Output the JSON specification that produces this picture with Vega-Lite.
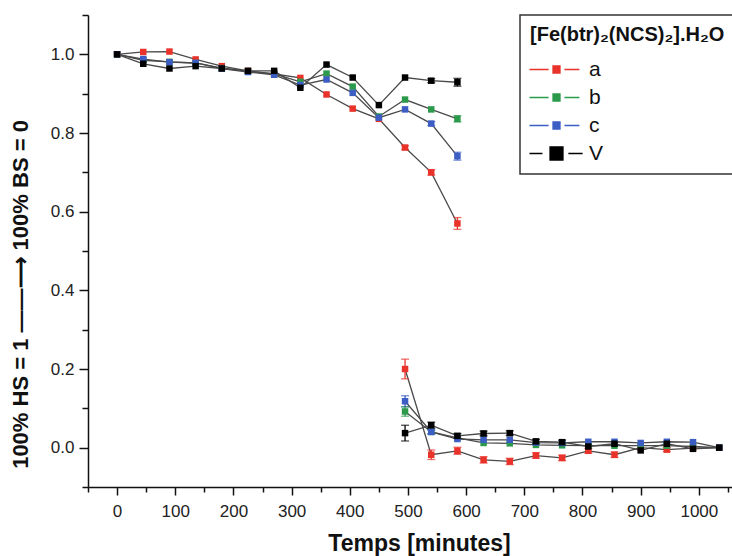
{
  "$schema": "https://vega.github.io/schema/vega-lite/v6.json",
  "width": 644,
  "height": 472,
  "autosize": {"type": "none"},
  "padding": {"left": 88, "top": 15, "right": 0, "bottom": 69},
  "background": "white",
  "config": {"view": {"stroke": null}, "font": "Liberation Sans"},
  "data": {"values": [
    {"s":"a","g":"u","x":0,"y":1.0,"e":0.003},
    {"s":"a","g":"u","x":45,"y":1.006,"e":0.003},
    {"s":"a","g":"u","x":90,"y":1.007,"e":0.003},
    {"s":"a","g":"u","x":135,"y":0.987,"e":0.003},
    {"s":"a","g":"u","x":180,"y":0.970,"e":0.003},
    {"s":"a","g":"u","x":225,"y":0.958,"e":0.003},
    {"s":"a","g":"u","x":270,"y":0.950,"e":0.003},
    {"s":"a","g":"u","x":315,"y":0.940,"e":0.003},
    {"s":"a","g":"u","x":360,"y":0.898,"e":0.003},
    {"s":"a","g":"u","x":405,"y":0.862,"e":0.003},
    {"s":"a","g":"u","x":450,"y":0.836,"e":0.004},
    {"s":"a","g":"u","x":495,"y":0.763,"e":0.005},
    {"s":"a","g":"u","x":540,"y":0.700,"e":0.007},
    {"s":"a","g":"u","x":585,"y":0.570,"e":0.015},
    {"s":"a","g":"l","x":495,"y":0.200,"e":0.025},
    {"s":"a","g":"l","x":540,"y":-0.018,"e":0.012},
    {"s":"a","g":"l","x":585,"y":-0.008,"e":0.009},
    {"s":"a","g":"l","x":630,"y":-0.031,"e":0.008},
    {"s":"a","g":"l","x":675,"y":-0.035,"e":0.008},
    {"s":"a","g":"l","x":720,"y":-0.020,"e":0.007},
    {"s":"a","g":"l","x":765,"y":-0.026,"e":0.007},
    {"s":"a","g":"l","x":810,"y":-0.008,"e":0.006},
    {"s":"a","g":"l","x":855,"y":-0.018,"e":0.007},
    {"s":"a","g":"l","x":900,"y":0.000,"e":0.004},
    {"s":"a","g":"l","x":945,"y":-0.005,"e":0.005},
    {"s":"a","g":"l","x":990,"y":-0.001,"e":0.003},
    {"s":"a","g":"l","x":1035,"y":0.0,"e":0.0},
    {"s":"b","g":"u","x":0,"y":1.0,"e":0.003},
    {"s":"b","g":"u","x":45,"y":0.985,"e":0.003},
    {"s":"b","g":"u","x":90,"y":0.981,"e":0.003},
    {"s":"b","g":"u","x":135,"y":0.978,"e":0.003},
    {"s":"b","g":"u","x":180,"y":0.965,"e":0.003},
    {"s":"b","g":"u","x":225,"y":0.957,"e":0.003},
    {"s":"b","g":"u","x":270,"y":0.950,"e":0.003},
    {"s":"b","g":"u","x":315,"y":0.930,"e":0.003},
    {"s":"b","g":"u","x":360,"y":0.951,"e":0.003},
    {"s":"b","g":"u","x":405,"y":0.918,"e":0.003},
    {"s":"b","g":"u","x":450,"y":0.842,"e":0.003},
    {"s":"b","g":"u","x":495,"y":0.885,"e":0.004},
    {"s":"b","g":"u","x":540,"y":0.860,"e":0.004},
    {"s":"b","g":"u","x":585,"y":0.836,"e":0.008},
    {"s":"b","g":"l","x":495,"y":0.092,"e":0.012},
    {"s":"b","g":"l","x":540,"y":0.040,"e":0.005},
    {"s":"b","g":"l","x":585,"y":0.025,"e":0.004},
    {"s":"b","g":"l","x":630,"y":0.012,"e":0.004},
    {"s":"b","g":"l","x":675,"y":0.011,"e":0.004},
    {"s":"b","g":"l","x":720,"y":0.007,"e":0.003},
    {"s":"b","g":"l","x":765,"y":0.006,"e":0.003},
    {"s":"b","g":"l","x":810,"y":0.005,"e":0.003},
    {"s":"b","g":"l","x":855,"y":0.005,"e":0.003},
    {"s":"b","g":"l","x":900,"y":0.005,"e":0.003},
    {"s":"b","g":"l","x":945,"y":0.005,"e":0.003},
    {"s":"b","g":"l","x":990,"y":0.003,"e":0.003},
    {"s":"b","g":"l","x":1035,"y":0.0,"e":0.0},
    {"s":"c","g":"u","x":0,"y":1.0,"e":0.003},
    {"s":"c","g":"u","x":45,"y":0.988,"e":0.003},
    {"s":"c","g":"u","x":90,"y":0.980,"e":0.003},
    {"s":"c","g":"u","x":135,"y":0.978,"e":0.003},
    {"s":"c","g":"u","x":180,"y":0.964,"e":0.003},
    {"s":"c","g":"u","x":225,"y":0.955,"e":0.003},
    {"s":"c","g":"u","x":270,"y":0.948,"e":0.003},
    {"s":"c","g":"u","x":315,"y":0.922,"e":0.003},
    {"s":"c","g":"u","x":360,"y":0.936,"e":0.003},
    {"s":"c","g":"u","x":405,"y":0.902,"e":0.003},
    {"s":"c","g":"u","x":450,"y":0.839,"e":0.003},
    {"s":"c","g":"u","x":495,"y":0.860,"e":0.004},
    {"s":"c","g":"u","x":540,"y":0.824,"e":0.005},
    {"s":"c","g":"u","x":585,"y":0.741,"e":0.010},
    {"s":"c","g":"l","x":495,"y":0.118,"e":0.014},
    {"s":"c","g":"l","x":540,"y":0.040,"e":0.005},
    {"s":"c","g":"l","x":585,"y":0.022,"e":0.004},
    {"s":"c","g":"l","x":630,"y":0.020,"e":0.004},
    {"s":"c","g":"l","x":675,"y":0.020,"e":0.004},
    {"s":"c","g":"l","x":720,"y":0.013,"e":0.003},
    {"s":"c","g":"l","x":765,"y":0.012,"e":0.003},
    {"s":"c","g":"l","x":810,"y":0.015,"e":0.003},
    {"s":"c","g":"l","x":855,"y":0.015,"e":0.003},
    {"s":"c","g":"l","x":900,"y":0.012,"e":0.003},
    {"s":"c","g":"l","x":945,"y":0.015,"e":0.003},
    {"s":"c","g":"l","x":990,"y":0.014,"e":0.003},
    {"s":"c","g":"l","x":1035,"y":0.0,"e":0.0},
    {"s":"V","g":"u","x":0,"y":1.0,"e":0.003},
    {"s":"V","g":"u","x":45,"y":0.976,"e":0.003},
    {"s":"V","g":"u","x":90,"y":0.964,"e":0.003},
    {"s":"V","g":"u","x":135,"y":0.970,"e":0.003},
    {"s":"V","g":"u","x":180,"y":0.964,"e":0.003},
    {"s":"V","g":"u","x":225,"y":0.958,"e":0.003},
    {"s":"V","g":"u","x":270,"y":0.958,"e":0.003},
    {"s":"V","g":"u","x":315,"y":0.915,"e":0.003},
    {"s":"V","g":"u","x":360,"y":0.974,"e":0.004},
    {"s":"V","g":"u","x":405,"y":0.941,"e":0.004},
    {"s":"V","g":"u","x":450,"y":0.871,"e":0.004},
    {"s":"V","g":"u","x":495,"y":0.941,"e":0.004},
    {"s":"V","g":"u","x":540,"y":0.933,"e":0.005},
    {"s":"V","g":"u","x":585,"y":0.929,"e":0.010},
    {"s":"V","g":"l","x":495,"y":0.037,"e":0.020},
    {"s":"V","g":"l","x":540,"y":0.057,"e":0.008},
    {"s":"V","g":"l","x":585,"y":0.030,"e":0.006},
    {"s":"V","g":"l","x":630,"y":0.036,"e":0.006},
    {"s":"V","g":"l","x":675,"y":0.037,"e":0.006},
    {"s":"V","g":"l","x":720,"y":0.016,"e":0.005},
    {"s":"V","g":"l","x":765,"y":0.014,"e":0.005},
    {"s":"V","g":"l","x":810,"y":0.003,"e":0.004},
    {"s":"V","g":"l","x":855,"y":0.010,"e":0.004},
    {"s":"V","g":"l","x":900,"y":-0.007,"e":0.004},
    {"s":"V","g":"l","x":945,"y":0.010,"e":0.004},
    {"s":"V","g":"l","x":990,"y":-0.003,"e":0.004},
    {"s":"V","g":"l","x":1035,"y":0.0,"e":0.0}
  ]},
  "encoding": {
    "x": {
      "field": "x", "type": "quantitative",
      "scale": {"domain": [-50, 1057], "nice": false, "zero": false},
      "axis": {
        "title": "Temps [minutes]",
        "values": [-50,0,50,100,150,200,250,300,350,400,450,500,550,600,650,700,750,800,850,900,950,1000,1050],
        "labelExpr": "datum.value % 100 == 0 ? datum.label : ''",
        "format": "d",
        "grid": false,
        "domainColor": "#111", "domainWidth": 1.5,
        "tickColor": "#111", "tickWidth": 1.5,
        "tickSize": {"condition": {"test": "datum.value % 100 == 0", "value": 8}, "value": 5},
        "labelFontSize": 17, "labelColor": "#222", "labelPadding": 8, "labelFlush": false, "labelOverlap": false,
        "titleFontSize": 23, "titleFontWeight": "bold", "titleColor": "#111",
        "titleX": 331, "titleY": 56, "titleBaseline": "middle", "titleAlign": "center"
      }
    },
    "y": {
      "field": "y", "type": "quantitative",
      "scale": {"domain": [-0.1, 1.1], "nice": false, "zero": false},
      "axis": {
        "title": "100% HS = 1 ——⟶ 100% BS = 0",
        "values": [-0.1,0,0.1,0.2,0.3,0.4,0.5,0.6,0.7,0.8,0.9,1.0,1.1],
        "labelExpr": "abs(round(datum.value*10)) % 2 == 0 ? format(datum.value, '.1f') : ''",
        "grid": false,
        "domainColor": "#111", "domainWidth": 1.5,
        "tickColor": "#111", "tickWidth": 1.5,
        "tickSize": {"condition": {"test": "abs(round(datum.value*10)) % 2 == 0", "value": 9}, "value": 6},
        "labelFontSize": 17, "labelColor": "#222", "labelPadding": 5, "labelFlush": false, "labelOverlap": false,
        "titleFontSize": 22, "titleFontWeight": "bold", "titleColor": "#111", "titleLimit": 0,
        "titleX": -68, "titleY": 279, "titleBaseline": "middle", "titleAlign": "center", "titleAngle": 270
      }
    },
    "color": {
      "field": "s", "type": "nominal",
      "scale": {"domain": ["a","b","c","V"], "range": ["#e8322a","#2b9a4b","#3b5dc4","#000000"]},
      "legend": {
        "orient": "none", "legendX": 432, "legendY": 0,
        "title": "[Fe(btr)₂(NCS)₂].H₂O",
        "titleFont": "Liberation Sans", "titleFontSize": 20, "titleFontWeight": "bold", "titleColor": "#111",
        "titlePadding": 14, "titleLimit": 0,
        "labelFont": "Liberation Sans", "labelFontSize": 21, "labelColor": "#111",
        "fillColor": "white", "strokeColor": "#333", "padding": 10,
        "symbolSize": 100, "rowPadding": 6, "labelOffset": 38,
        "encode": {
          "legend": {"update": {"strokeWidth": {"value": 1.5}}},
          "symbols": {"update": {
            "shape": {"signal": "datum.value === 'V' ? 'M-3.4,0H0.6M8.6,0H13M2.94,-2H6.94V2H2.94Z' : 'M-3.4,0H2.5M7.4,0H12M3.86,-1.08H6.02V1.08H3.86Z'"},
            "fill": {"scale": "color", "field": "value"},
            "stroke": {"value": "#555"},
            "strokeWidth": {"value": 1.3},
            "opacity": {"value": 1}
          }}
        }
      }
    }
  },
  "layer": [
    {
      "mark": {"type": "line", "strokeWidth": 1.3},
      "encoding": {
        "color": {"value": "#4a4a4a"},
        "detail": [{"field": "s"}, {"field": "g"}],
        "order": {"field": "x", "type": "quantitative"}
      }
    },
    {
      "transform": [{"filter": "datum.e >= 0.005"}],
      "mark": {"type": "errorbar", "ticks": {"size": 8}, "thickness": 1.3},
      "encoding": {
        "yError": {"field": "e"}
      }
    },
    {
      "mark": {"type": "point", "shape": "square", "filled": true, "opacity": 1},
      "encoding": {
        "size": {"field": "s", "type": "nominal", "scale": {"domain": ["a","b","c","V"], "range": [42,42,42,105]}, "legend": null}
      }
    }
  ]
}
